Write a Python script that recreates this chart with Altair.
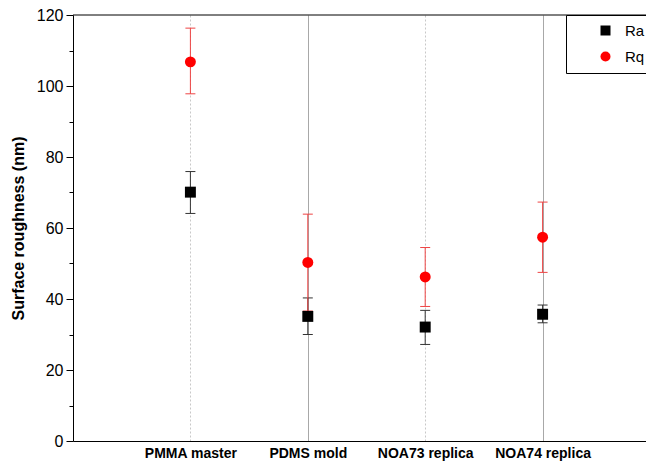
import altair as alt
import pandas as pd

categories = ["PMMA master", "PDMS mold", "NOA73 replica", "NOA74 replica"]
positions = [1, 2, 3, 4]
series_names = ["Ra", "Rq"]

ra_mean = [70.1, 35.1, 32.1, 35.7]
ra_low = [64.1, 30.0, 27.2, 33.3]
ra_high = [75.9, 40.3, 36.8, 38.3]

rq_mean = [106.8, 50.3, 46.2, 57.4]
rq_low = [97.8, 36.6, 37.9, 47.5]
rq_high = [116.3, 63.9, 54.5, 67.3]

y_ticks = list(range(0, 121, 10))

rows = []
for i, c in enumerate(categories):
    rows.append({"cat": c, "pos": positions[i], "series": "Ra",
                 "mean": ra_mean[i], "low": ra_low[i], "high": ra_high[i]})
for i, c in enumerate(categories):
    rows.append({"cat": c, "pos": positions[i], "series": "Rq",
                 "mean": rq_mean[i], "low": rq_low[i], "high": rq_high[i]})
df = pd.DataFrame(rows)

PLOT_W = 573
PLOT_H = 426

label_expr = " : ".join(
    [f"datum.value === {p} ? '{c}'" for p, c in zip(positions, categories)]
) + " : ''"

x_enc = alt.X(
    "pos:Q",
    scale=alt.Scale(domain=[0, PLOT_W / 117.4], nice=False, zero=False),
    axis=alt.Axis(
        values=positions,
        labelExpr=label_expr,
        title=None,
        grid=True,
        gridColor={"condition": {"test": "datum.value % 2 === 1", "value": "#c8c8c8"}, "value": "#a8a8a8"},
        gridDash={"condition": {"test": "datum.value % 2 === 1", "value": [2, 2]}, "value": []},
        gridWidth=1,
        ticks=False,
        labelFont="Liberation Sans",
        labelFontWeight="bold",
        labelFontSize=14,
        labelColor="black",
        labelPadding=5,
        domainColor="black",
        labelFlush=False,
    ),
)

y_axis = alt.Axis(
    values=y_ticks,
    labelExpr="datum.value % 20 === 0 ? datum.label : ''",
    tickSize={"condition": {"test": "datum.value % 20 === 0", "value": 7}, "value": 4},
    tickColor="black",
    domainColor="black",
    grid=False,
    labelFont="Liberation Sans",
    labelFontSize=16,
    labelColor="black",
    labelPadding=3,
    title="Surface roughness (nm)",
    titleFont="Liberation Sans",
    titleFontSize=16,
    titleFontWeight="bold",
    titleColor="black",
    titlePadding=10,
)

y_scale = alt.Scale(domain=[0, 120], nice=False, zero=False)

color_scale = alt.Scale(domain=series_names, range=["#000000", "#ff0000"])
shape_scale = alt.Scale(domain=series_names, range=["square", "circle"])
err_colors = {"Ra": "#333333", "Rq": "#ee4444"}

base = alt.Chart(df)

err_layers = []
for s in series_names:
    b = base.transform_filter(alt.datum.series == s)
    err_layers.append(
        b.mark_rule(strokeWidth=1, color=err_colors[s]).encode(
            x=x_enc,
            y=alt.Y("low:Q", scale=y_scale, axis=y_axis),
            y2="high:Q",
        )
    )
    err_layers.append(
        b.mark_rule(strokeWidth=1, color=err_colors[s], xOffset=-5, x2Offset=5).encode(
            x=x_enc,
            x2="pos:Q",
            y=alt.Y("low:Q", scale=y_scale, axis=y_axis),
        )
    )
    err_layers.append(
        b.mark_rule(strokeWidth=1, color=err_colors[s], xOffset=-5, x2Offset=5).encode(
            x=x_enc,
            x2="pos:Q",
            y=alt.Y("high:Q", scale=y_scale, axis=y_axis),
        )
    )

pts = base.mark_point(filled=True, opacity=1, size=120).encode(
    x=x_enc,
    y=alt.Y("mean:Q", scale=y_scale, axis=y_axis),
    color=alt.Color(
        "series:N",
        scale=color_scale,
        legend=alt.Legend(
            title=None,
            orient="none",
            legendX=493,
            legendY=0,
            strokeColor="black",
            fillColor="white",
            padding=8,
            symbolOffset=24,
            labelOffset=12,
            labelFontSize=15,
            labelFont="Liberation Sans",
            labelColor="black",
            symbolSize=100,
            rowPadding=10,
            cornerRadius=0,
        ),
    ),
    shape=alt.Shape("series:N", scale=shape_scale),
)

top_border = alt.Chart(pd.DataFrame({"a": [0]})).mark_rule(color="black", strokeWidth=1).encode(
    x=alt.value(0), x2=alt.value(PLOT_W), y=alt.value(0)
)

chart = (
    alt.layer(*err_layers, pts, top_border)
    .properties(
        width=PLOT_W,
        height=PLOT_H,
        autosize=alt.AutoSizeParams(type="none"),
        padding={"left": 65, "top": 7, "right": 0, "bottom": 22},
        background="white",
    )
    .configure_view(stroke=None)
)

chart.save("out.html", embed_options={"renderer": "svg", "actions": False})
